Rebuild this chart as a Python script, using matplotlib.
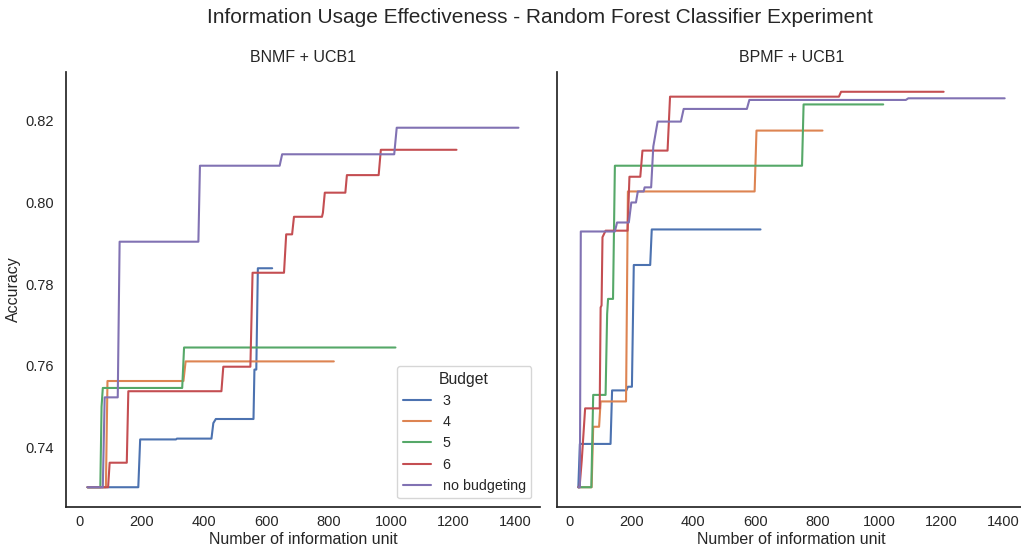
import numpy as np
import matplotlib
matplotlib.use("Agg")
import matplotlib.pyplot as plt
import seaborn as sns

sns.set_theme(style="white")
plt.rcParams['font.family'] = ['Liberation Sans', 'DejaVu Sans']

budgets = ['3', '4', '5', '6', 'no budgeting']
panels = ['BNMF + UCB1', 'BPMF + UCB1']

# BNMF + UCB1
bnmf_x_3 = [25, 188, 194, 309, 312, 423, 429, 437, 558, 561, 567, 572, 618]
bnmf_y_3 = [0.7303, 0.7303, 0.7420, 0.7420, 0.7422, 0.7422, 0.7460, 0.7470, 0.7470, 0.7591, 0.7591, 0.7839, 0.7839]
bnmf_x_4 = [25, 84, 89, 333, 340, 816]
bnmf_y_4 = [0.7303, 0.7303, 0.7563, 0.7563, 0.7611, 0.7611]
bnmf_x_5 = [25, 66, 70, 74, 329, 335, 1014]
bnmf_y_5 = [0.7303, 0.7303, 0.7500, 0.7546, 0.7546, 0.7645, 0.7645]
bnmf_x_6 = [25, 91, 96, 151, 156, 455, 461, 548, 555, 656, 663, 682, 688, 778, 781, 787, 853, 858, 960, 967, 1210]
bnmf_y_6 = [0.7303, 0.7303, 0.7363, 0.7363, 0.7538, 0.7538, 0.7598, 0.7598, 0.7828, 0.7828, 0.7922, 0.7922,
            0.7965, 0.7965, 0.7975, 0.8024, 0.8024, 0.8067, 0.8067, 0.8129, 0.8129]
bnmf_x_nb = [25, 74, 80, 122, 128, 381, 386, 642, 650, 1010, 1018, 1409]
bnmf_y_nb = [0.7303, 0.7303, 0.7523, 0.7523, 0.7904, 0.7904, 0.8090, 0.8090, 0.8118, 0.8118, 0.8183, 0.8183]

# BPMF + UCB1
bpmf_x_3 = [29, 34, 133, 138, 184, 189, 202, 208, 261, 266, 617]
bpmf_y_3 = [0.7303, 0.7409, 0.7409, 0.7540, 0.7540, 0.7549, 0.7549, 0.7847, 0.7847, 0.7934, 0.7934]
bpmf_x_4 = [29, 72, 77, 96, 101, 183, 189, 598, 604, 817]
bpmf_y_4 = [0.7303, 0.7303, 0.7451, 0.7451, 0.7513, 0.7513, 0.8027, 0.8027, 0.8176, 0.8176]
bpmf_x_5 = [29, 71, 77, 117, 122, 125, 141, 147, 751, 756, 1013]
bpmf_y_5 = [0.7303, 0.7303, 0.7529, 0.7529, 0.7727, 0.7764, 0.7764, 0.8090, 0.8090, 0.8240, 0.8240]
bpmf_x_6 = [29, 33, 40, 51, 98, 101, 104, 107, 117, 188, 194, 229, 236, 317, 325, 870, 877, 1208]
bpmf_y_6 = [0.7303, 0.7303, 0.7368, 0.7496, 0.7496, 0.7743, 0.7748, 0.7915, 0.7931, 0.7931, 0.8063, 0.8063,
            0.8127, 0.8127, 0.8259, 0.8259, 0.8271, 0.8271]
bpmf_x_nb = [29, 34, 37, 147, 154, 192, 200, 215, 221, 240, 243, 264, 271, 285, 360, 369, 573, 581, 1086, 1094, 1405]
bpmf_y_nb = [0.7303, 0.7303, 0.7929, 0.7929, 0.7951, 0.7951, 0.8000, 0.8000, 0.8027, 0.8027, 0.8037, 0.8037,
             0.8137, 0.8198, 0.8198, 0.8229, 0.8229, 0.8251, 0.8251, 0.8255, 0.8255]

data = [
    [(bnmf_x_3, bnmf_y_3), (bnmf_x_4, bnmf_y_4), (bnmf_x_5, bnmf_y_5), (bnmf_x_6, bnmf_y_6), (bnmf_x_nb, bnmf_y_nb)],
    [(bpmf_x_3, bpmf_y_3), (bpmf_x_4, bpmf_y_4), (bpmf_x_5, bpmf_y_5), (bpmf_x_6, bpmf_y_6), (bpmf_x_nb, bpmf_y_nb)],
]
colors = sns.color_palette("deep", 5)

fig = plt.figure(figsize=(10.21, 5.49), dpi=100)
W, H = 1021, 549
ax1 = fig.add_axes([66 / W, 1 - 507 / H, 474 / W, 435 / H])
ax2 = fig.add_axes([557 / W, 1 - 507 / H, 469 / W, 435 / H], sharey=ax1)

for ax, title, series in zip([ax1, ax2], panels, data):
    for (x, y), lab, c in zip(series, budgets, colors):
        ax.plot(x, y, color=c, lw=1.5, label=lab)
    ax.set_title(title, fontsize=11.5, pad=7)
    ax.set_xlabel('Number of information unit', fontsize=11.5, labelpad=2)
    ax.set_xticks(np.arange(0, 1401, 200))
    ax.tick_params(axis='x', labelsize=10.5, length=0, pad=6)
    ax.tick_params(axis='y', labelsize=10.5, length=0, pad=8.5)
    for s in ['top', 'right']:
        ax.spines[s].set_visible(False)
    for s in ['left', 'bottom']:
        ax.spines[s].set_color('#262626')
        ax.spines[s].set_linewidth(1.25)

ax1.set_ylabel('Accuracy', fontsize=11.5, labelpad=3)
ax1.set_yticks([0.74, 0.76, 0.78, 0.80, 0.82])
plt.setp(ax2.get_yticklabels(), visible=False)

leg = ax1.legend(title='Budget', loc='lower right', fontsize=10.3, title_fontsize=11.3,
                 borderaxespad=0.6)

fig.suptitle('Information Usage Effectiveness - Random Forest Classifier Experiment', fontsize=15, x=0.529, y=0.985)

fig.savefig('out.png', dpi=100)
